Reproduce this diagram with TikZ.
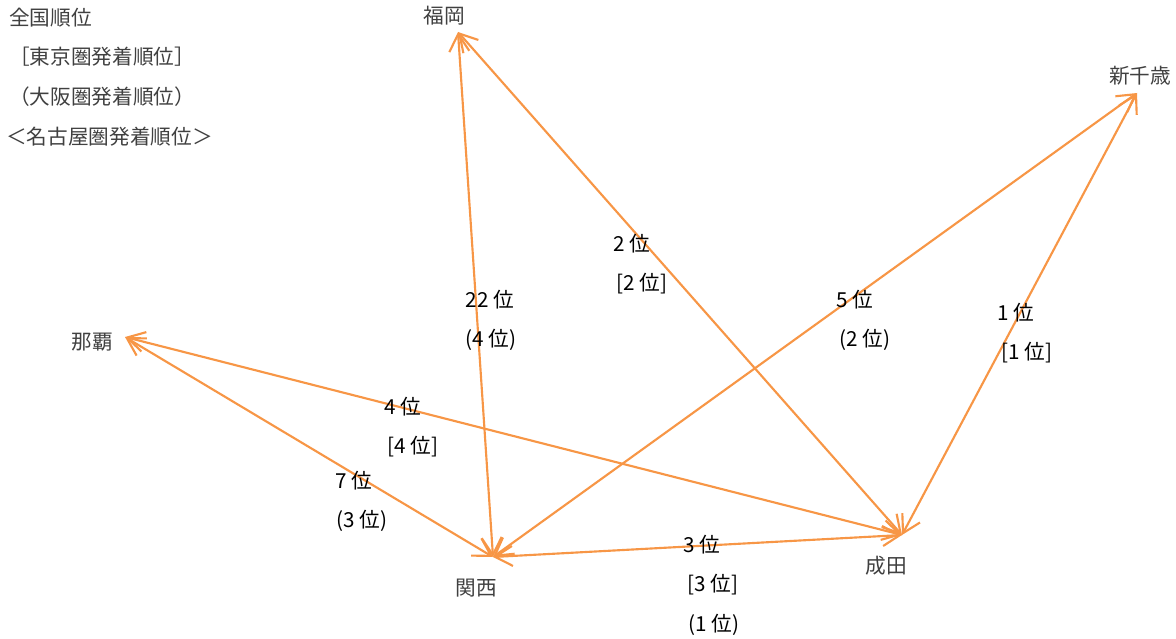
\documentclass[tikz,border=0pt]{standalone}
\usepackage{fontspec}
\setmainfont{Noto Sans CJK JP}
\usepackage{tikz}
\usetikzlibrary{arrows.meta,positioning}
\definecolor{RouteOrange}{HTML}{F79646}
\definecolor{NameGray}{HTML}{404040}

\begin{document}
\begin{tikzpicture}[
x=0.75pt,y=-0.75pt,
font=\fontsize{15.5pt}{18pt}\selectfont,
city/.style={text=NameGray,inner sep=0pt},
legend/.style={text=NameGray,inner sep=0pt,anchor=west},
rank/.style={text=black,inner sep=0pt},
route/.style={{Straight Barb[length=13pt,width=15pt]}-{Straight Barb[length=13pt,width=15pt]},line width=1.6pt,draw=RouteOrange}
]
\useasboundingbox (0,0) rectangle (1176,638);

\node[legend] (lg1) at (9,18) {全国順位};
\node[legend] (lg2) at (9,57) {［東京圏発着順位］};
\node[legend] (lg3) at (9,97) {（大阪圏発着順位）};
\node[legend] (lg4) at (6,137) {＜名古屋圏発着順位＞};

\coordinate (fuk) at (458,32);
\coordinate (cts) at (1137,93);
\coordinate (oka) at (125,337);
\coordinate (kix) at (493,557);
\coordinate (nrt) at (902,535);

\node[city] (fuklabel) at (444,16) {福岡};
\node[city] (ctslabel) at (1140,76) {新千歳};
\node[city] (okalabel) at (92,342) {那覇};
\node[city] (kixlabel) at (476,588) {関西};
\node[city] (nrtlabel) at (886,566) {成田};

\draw[route] (fuk) -- (kix);
\draw[route] (fuk) -- (nrt);
\draw[route] (cts) -- (kix);
\draw[route] (cts) -- (nrt);
\draw[route] (oka) -- (nrt);
\draw[route] (oka) -- (kix);
\draw[route] (kix) -- (nrt);

\node[rank] (fukkix1) at (490,300) {22 位};
\node[rank] (fukkix2) at (491,340) {(4 位)};
\node[rank] (fuknrt1) at (632,244) {2 位};
\node[rank] (fuknrt2) at (642,284) {[2 位]};
\node[rank] (ctskix1) at (855,300) {5 位};
\node[rank] (ctskix2) at (865,340) {(2 位)};
\node[rank] (ctsnrt1) at (1016,313) {1 位};
\node[rank] (ctsnrt2) at (1027,353) {[1 位]};
\node[rank] (okanrt1) at (403,407) {4 位};
\node[rank] (okanrt2) at (413,447) {[4 位]};
\node[rank] (okakix1) at (354,481) {7 位};
\node[rank] (okakix2) at (362,521) {(3 位)};
\node[rank] (kixnrt1) at (702,545) {3 位};
\node[rank] (kixnrt2) at (713,585) {[3 位]};
\node[rank] (kixnrt3) at (714,625) {(1 位)};
\end{tikzpicture}
\end{document}
